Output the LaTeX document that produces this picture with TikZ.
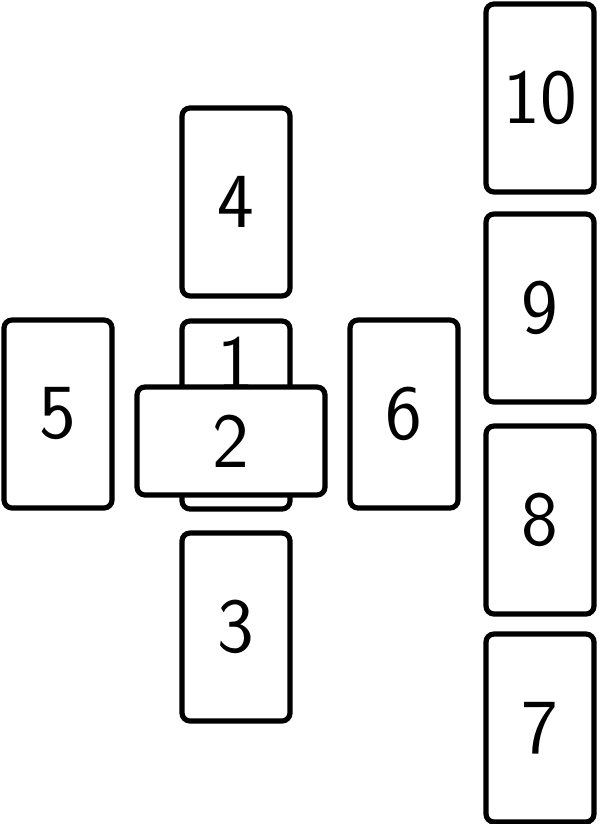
\documentclass[tikz,border=0pt]{standalone}
\usepackage{fontspec}
\usepackage{tikz}
\usetikzlibrary{positioning}
\tikzset{
    %Define style for cards
    karte/.style={
           rectangle,
           rounded corners=4pt,
           draw=black, line width=2.6pt,
           fill=white,
           minimum width=54pt,
           minimum height=94pt,
           inner sep=0pt,
           font=\sffamily\fontsize{39}{44}\selectfont},
    % crossing card lies flat
    quer/.style={karte, minimum width=94pt, minimum height=54pt}
}

\begin{document}
\begin{tikzpicture}[x=0.5pt,y=-0.5pt]
  \useasboundingbox (0,0) rectangle (600,824);
  % the cross
  \node[karte, label={[yshift=26pt, font=\sffamily\fontsize{39}{44}\selectfont]center:1}] (K1) at (236,415) {};
  \node[quer] (K2) at (231,441) {2};
  \node[karte] (K4) at (236,202) {4};
  \node[karte] (K3) at (236,627) {3};
  \node[karte] (K5) at (58,414) {5};
  \node[karte] (K6) at (404,414) {6};
  % the staff
  \node[karte] (K10) at (540,98) {10};
  \node[karte] (K9) at (540,308) {9};
  \node[karte] (K8) at (540,520) {8};
  \node[karte] (K7) at (540,728) {7};
\end{tikzpicture}
\end{document}
